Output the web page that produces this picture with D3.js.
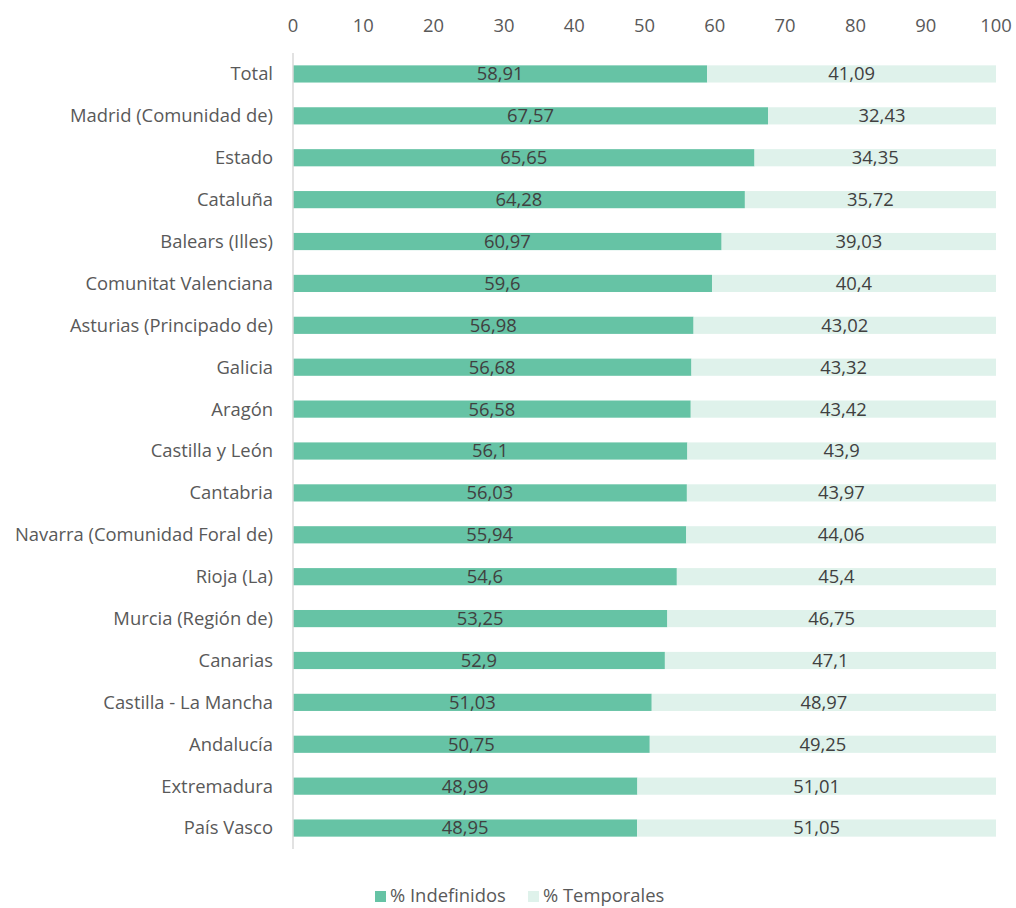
<!DOCTYPE html>
<html>
<head>
<meta charset="utf-8">
<script src="https://cdn.jsdelivr.net/npm/d3@7"></script>
<style>
  body { margin: 0; background: #fff; }
  text { font-family: "Open Sans", sans-serif; }
</style>
</head>
<body>
<div id="chart"></div>
<script>
// data
const regions = ["Total", "Madrid (Comunidad de)", "Estado", "Cataluña", "Balears (Illes)",
    "Comunitat Valenciana", "Asturias (Principado de)", "Galicia", "Aragón", "Castilla y León",
    "Cantabria", "Navarra (Comunidad Foral de)", "Rioja (La)", "Murcia (Región de)", "Canarias",
    "Castilla - La Mancha", "Andalucía", "Extremadura", "País Vasco"];
const indefinidos = [58.91, 67.57, 65.65, 64.28, 60.97, 59.6, 56.98, 56.68, 56.58, 56.1,
    56.03, 55.94, 54.6, 53.25, 52.9, 51.03, 50.75, 48.99, 48.95];
const temporales = [41.09, 32.43, 34.35, 35.72, 39.03, 40.4, 43.02, 43.32, 43.42, 43.9,
    43.97, 44.06, 45.4, 46.75, 47.1, 48.97, 49.25, 51.01, 51.05];
const seriesNames = ["% Indefinidos", "% Temporales"];
const seriesColors = ["#66c3a5", "#dff2eb"];
const xTicks = [0, 10, 20, 30, 40, 50, 60, 70, 80, 90, 100];

const width = 1016, height = 908;
const margin = { top: 53, right: 20, bottom: 59, left: 293 };
const fs = 18.4;

const svg = d3.select("#chart").append("svg")
    .attr("width", width)
    .attr("height", height);

const x = d3.scaleLinear().domain([0, 100]).range([margin.left, 996]);
const y = d3.scaleBand().domain(regions).range([margin.top, height - margin.bottom]).paddingInner(0.59).paddingOuter(0.295);

const fmt = v => String(v).replace(".", ",");

const rows = regions.map((r, i) => ({ name: r, a: indefinidos[i], b: temporales[i] }));

// top axis labels
svg.append("g")
    .selectAll("text")
    .data(xTicks)
    .join("text")
    .attr("x", d => x(d))
    .attr("y", 26)
    .attr("dy", "0.35em")
    .attr("text-anchor", "middle")
    .attr("fill", "#595959")
    .attr("font-size", fs)
    .text(d => d);

// category labels
svg.append("g")
    .selectAll("text")
    .data(rows)
    .join("text")
    .attr("x", 273)
    .attr("y", d => y(d.name) + y.bandwidth() / 2)
    .attr("dy", "0.35em")
    .attr("text-anchor", "end")
    .attr("fill", "#595959")
    .attr("font-size", fs)
    .text(d => d.name);

// bars
const g = svg.append("g");
g.selectAll("rect.a")
    .data(rows)
    .join("rect")
    .attr("class", "a")
    .attr("x", x(0))
    .attr("y", d => y(d.name))
    .attr("width", d => x(d.a) - x(0))
    .attr("height", y.bandwidth())
    .attr("fill", seriesColors[0]);
g.selectAll("rect.b")
    .data(rows)
    .join("rect")
    .attr("class", "b")
    .attr("x", d => x(d.a))
    .attr("y", d => y(d.name))
    .attr("width", d => x(d.a + d.b) - x(d.a))
    .attr("height", y.bandwidth())
    .attr("fill", seriesColors[1]);

// vertical axis line
svg.append("line")
    .attr("x1", x(0)).attr("x2", x(0))
    .attr("y1", margin.top).attr("y2", height - margin.bottom)
    .attr("stroke", "#d9d9d9")
    .attr("stroke-width", 1.5);

// data labels
const labels = svg.append("g")
    .attr("fill", "#404040")
    .attr("font-size", fs)
    .attr("text-anchor", "middle");
labels.selectAll("text.a")
    .data(rows)
    .join("text")
    .attr("class", "a")
    .attr("x", d => x(d.a / 2))
    .attr("y", d => y(d.name) + y.bandwidth() / 2)
    .attr("dy", "0.35em")
    .text(d => fmt(d.a));
labels.selectAll("text.b")
    .data(rows)
    .join("text")
    .attr("class", "b")
    .attr("x", d => x(d.a + d.b / 2))
    .attr("y", d => y(d.name) + y.bandwidth() / 2)
    .attr("dy", "0.35em")
    .text(d => fmt(d.b));

// legend
const legend = svg.append("g").attr("transform", "translate(375,896)");
const items = legend.selectAll("g")
    .data(seriesNames)
    .join("g")
    .attr("transform", (d, i) => `translate(${i * 153},0)`);
items.append("rect")
    .attr("x", 0).attr("y", -5)
    .attr("width", 11).attr("height", 11)
    .attr("fill", (d, i) => seriesColors[i]);
items.append("text")
    .attr("x", 15)
    .attr("dy", "0.35em")
    .attr("fill", "#595959")
    .attr("font-size", fs)
    .text(d => d);
</script>
</body>
</html>
